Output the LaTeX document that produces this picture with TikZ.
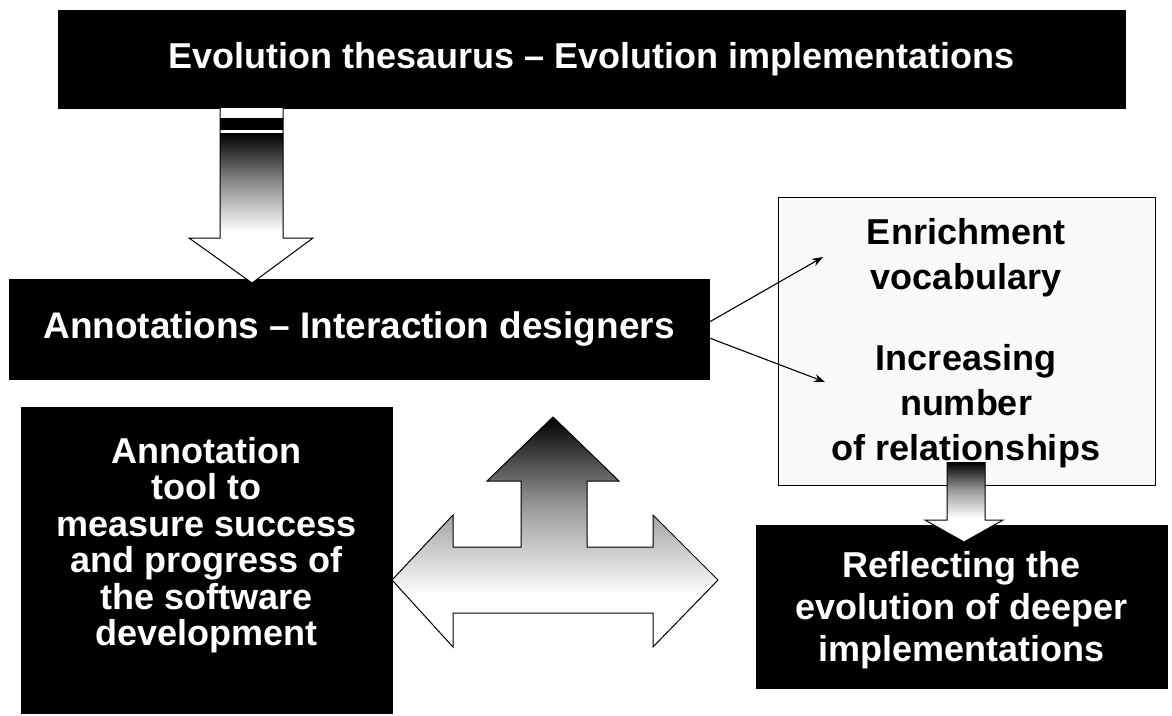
\documentclass[tikz,border=0pt]{standalone}
\usepackage{fontspec}
\setmainfont{Liberation Sans}
\usetikzlibrary{arrows.meta}
\begin{document}
\begin{tikzpicture}[x=1pt,y=-1pt,
  blackbox/.style={draw=black, fill=black, text=white, align=center, inner sep=0pt, line width=0.8pt,
    font=\bfseries\fontsize{36}{42}\selectfont},
  whitetext/.style={text=white, align=center, inner sep=0pt},
  lightbox/.style={draw=black, fill=black!2, line width=0.9pt, inner sep=0pt},
  darktext/.style={text=black, align=center, inner sep=0pt, font=\bfseries\fontsize{36}{45}\selectfont},
  conn/.style={line width=1.1pt, -{Stealth[length=11pt, width=8pt]}},
  blockline/.style={line width=1pt, line join=miter, black}
]
\useasboundingbox (0,0) rectangle (1172,715);
\fill[white] (0,0) rectangle (1172,715);

% boxes
\node[blackbox, minimum width=1067pt, minimum height=98pt] (top) at (591.5,59)
  {Evolution thesaurus – Evolution implementations};
\node[blackbox, minimum width=700pt, minimum height=100pt, font=\bfseries\fontsize{37}{42}\selectfont] (ann) at (359,329)
  {Annotations – Interaction designers};
\node[blackbox, minimum width=371pt, minimum height=306pt] (tool) at (206.5,560) {};
\node[whitetext, font=\bfseries\fontsize{36}{36.5}\selectfont] (tooltext) at (206.5,545)
  {Annotation\\tool to\\measure success\\and progress of\\the software\\development};
\node[lightbox, minimum width=377pt, minimum height=288pt] (rbox) at (966.5,341) {};
\node[darktext] (enr) at (966,258) {Enrichment\\vocabulary};
\node[darktext] (inc) at (966,406) {Increasing\\number\\of relationships};
\node[blackbox, minimum width=411pt, minimum height=163pt] (refl) at (961.5,606.5) {};
\node[whitetext, font=\bfseries\fontsize{36}{42}\selectfont] (refltext) at (961.5,610)
  {Reflecting the\\evolution of deeper\\implementations};

% line connectors
\coordinate (tipA) at (823,257);
\coordinate (tipB) at (825,382);
\draw[conn] ([yshift=7pt]ann.east) -- (tipA);
\draw[conn] ([yshift=-9pt]ann.east) -- (tipB);

% top block arrow
\begin{scope}
  \clip (220,108) -- (283,108) -- (283,238) -- (313,238) -- (252,283) -- (189,238) -- (220,238) -- cycle;
  \fill[white] (180,100) rectangle (320,290);
  \shade[top color=black, bottom color=white, middle color=black!45] (180,133) rectangle (320,232);
  \fill[black] (180,118) rectangle (320,130);
\end{scope}
\draw[blockline] (220,108) -- (220,238) -- (189,238) -- (252,283) -- (313,238) -- (283,238) -- (283,108);

% T-shaped block arrow
\begin{scope}
  \clip (553,417) -- (619,481) -- (587,481) -- (587,547) -- (653,547) -- (653,515) -- (718,580)
    -- (653,647) -- (653,613) -- (453,613) -- (453,647) -- (392,580) -- (453,515) -- (453,547)
    -- (521,547) -- (521,481) -- (487,481) -- cycle;
  \fill[white] (380,410) rectangle (730,660);
  \shade[top color=black, bottom color=white, middle color=black!40] (380,417) rectangle (730,595);
\end{scope}
\draw[blockline] (553,417) -- (619,481) -- (587,481) -- (587,547) -- (653,547) -- (653,515) -- (718,580)
    -- (653,647) -- (653,613) -- (453,613) -- (453,647) -- (392,580) -- (453,515) -- (453,547)
    -- (521,547) -- (521,481) -- (487,481) -- cycle;

% small block arrow
\begin{scope}
  \clip (947,462) -- (985,462) -- (985,520) -- (1003,520) -- (964,542) -- (925,520) -- (947,520) -- cycle;
  \fill[white] (920,455) rectangle (1010,545);
  \shade[top color=black, bottom color=white, middle color=black!40] (920,462) rectangle (1010,518);
\end{scope}
\draw[blockline] (947,462) -- (947,520) -- (925,520) -- (964,542) -- (1003,520) -- (985,520) -- (985,462);
\end{tikzpicture}
\end{document}
